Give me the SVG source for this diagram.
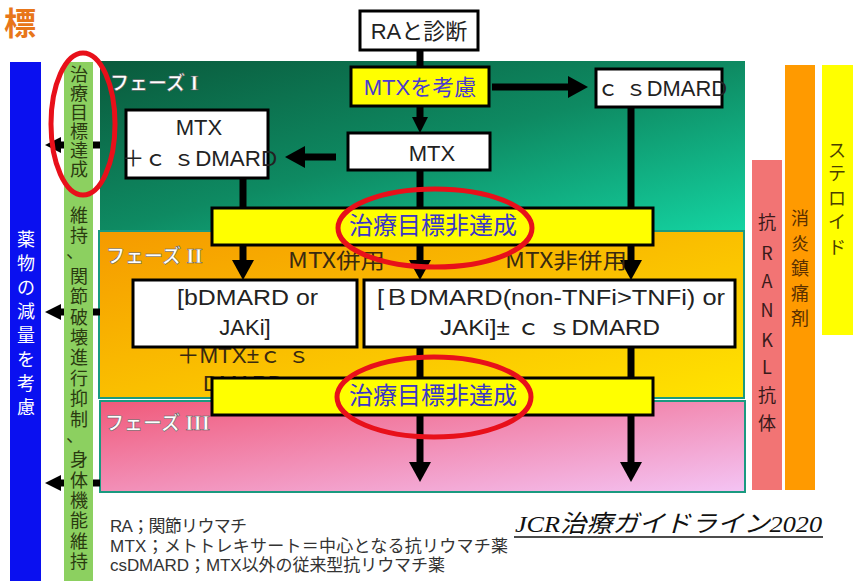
<svg xmlns="http://www.w3.org/2000/svg" width="862" height="581" viewBox="0 0 862 581">
<defs>
<style>
.jp{font-family:"Noto Sans CJK JP","Liberation Sans",sans-serif;}
.box{fill:#fff;stroke:#000;stroke-width:3;}
.ybar{fill:#ffff00;stroke:#000;stroke-width:3;}
.bt{font-family:"Liberation Sans","Noto Sans CJK JP",sans-serif;font-size:22px;fill:#222;}
.conn{stroke:#000;stroke-width:7;fill:none;}
.ring{fill:none;stroke:#e8101a;stroke-width:5;}
.ph{font-family:"Noto Sans CJK JP",sans-serif;font-size:19px;font-weight:bold;fill:#fff;stroke:#555;stroke-width:0.5px;}
.vt{font-family:"Noto Sans CJK JP","Liberation Sans",sans-serif;font-size:18px;text-anchor:middle;}
.goal{font-family:"Noto Sans CJK JP",sans-serif;font-size:24px;fill:#3a36c8;text-anchor:middle;}
.lg{font-family:"Liberation Sans","Noto Sans CJK JP",sans-serif;font-size:17px;fill:#333;}
</style>
<linearGradient id="g1" x1="0" y1="0" x2="1" y2="1">
<stop offset="0" stop-color="#0a5a3c"/><stop offset="0.5" stop-color="#0e8a62"/><stop offset="1" stop-color="#14d4a2"/>
</linearGradient>
<linearGradient id="g2" x1="0" y1="0" x2="1" y2="1">
<stop offset="0" stop-color="#f59a00"/><stop offset="1" stop-color="#ffe400"/>
</linearGradient>
<linearGradient id="g3" x1="0" y1="0" x2="1" y2="1">
<stop offset="0" stop-color="#f05a7a"/><stop offset="1" stop-color="#f4c4f4"/>
</linearGradient>
<marker id="ah" markerUnits="userSpaceOnUse" viewBox="0 0 20 22" markerWidth="20" markerHeight="22" refX="2" refY="11" orient="auto">
<path d="M0,0 L20,11 L0,22 Z" fill="#000"/>
</marker>
<marker id="ahs" markerUnits="userSpaceOnUse" viewBox="0 0 16 16" markerWidth="16" markerHeight="16" refX="2" refY="8" orient="auto">
<path d="M0,0 L16,8 L0,16 Z" fill="#000"/>
</marker>
</defs>
<rect width="862" height="581" fill="#fff"/>
<text x="4" y="35" font-family="Noto Sans CJK JP,sans-serif" font-size="32" font-weight="bold" fill="#e8761a">標</text>

<g id="phases">
<rect x="100" y="61" width="645" height="171" fill="url(#g1)"/>
<rect x="99" y="231" width="645" height="167" fill="url(#g2)" stroke="#1a9a80" stroke-width="2"/>
<rect x="100" y="401" width="645" height="91" fill="url(#g3)" stroke="#1a9a80" stroke-width="2"/>
<text class="ph" x="110" y="90">フェーズ<tspan font-family="Liberation Serif,serif" font-size="21"> I</tspan></text>
<text class="ph" x="106" y="263">フェーズ<tspan font-family="Liberation Serif,serif" font-size="21"> II</tspan></text>
<text class="ph" x="105" y="430">フェーズ<tspan font-family="Liberation Serif,serif" font-size="21"> III</tspan></text>
</g>

<g id="connectors">
<line class="conn" x1="420" y1="48" x2="420" y2="68"/>
<line class="conn" x1="492" y1="87" x2="570" y2="87" marker-end="url(#ah)"/>
<line class="conn" x1="420" y1="105" x2="420" y2="119" marker-end="url(#ahs)"/>
<line class="conn" x1="336" y1="157" x2="303" y2="157" marker-end="url(#ah)"/>
<line class="conn" x1="243" y1="177" x2="243" y2="262" marker-end="url(#ah)"/>
<line class="conn" x1="420" y1="169" x2="420" y2="262" marker-end="url(#ah)"/>
<line class="conn" x1="631" y1="106" x2="631" y2="262" marker-end="url(#ah)"/>
<line class="conn" x1="420" y1="346" x2="420" y2="464" marker-end="url(#ah)"/>
<line class="conn" x1="631" y1="346" x2="631" y2="464" marker-end="url(#ah)"/>
<line class="conn" x1="100" y1="145" x2="59" y2="145" marker-end="url(#ahs)"/>
<line class="conn" x1="100" y1="312" x2="59" y2="312" marker-end="url(#ahs)"/>
<line class="conn" x1="100" y1="483" x2="59" y2="483" marker-end="url(#ahs)"/>
</g>

<g id="ra">
<rect class="box" x="360" y="11" width="118" height="39"/>
<text class="bt" x="419" y="39" text-anchor="middle">RAと診断</text>
</g>
<g id="mtx-consider">
<rect x="351" y="67" width="138" height="39" fill="#ffff00" stroke="#000" stroke-width="3"/>
<text class="bt" x="420" y="95" text-anchor="middle" style="fill:#4a3ad0">MTXを考慮</text>
</g>
<g id="csdmard">
<rect class="box" x="596" y="69" width="126" height="38"/>
<text class="bt" x="597" y="96" textLength="130" lengthAdjust="spacingAndGlyphs">ｃ ｓDMARD</text>
</g>
<g id="mtx">
<rect class="box" x="348" y="133" width="142" height="37"/>
<text class="bt" x="432" y="161" text-anchor="middle">MTX</text>
</g>
<g id="mtx-cs">
<rect class="box" x="126" y="110" width="142" height="68"/>
<text class="bt" x="199" y="135" text-anchor="middle">MTX</text>
<text class="bt" x="122" y="166" textLength="155" lengthAdjust="spacingAndGlyphs">＋ｃ ｓDMARD</text>
</g>
<g id="goal1">
<rect class="ybar" x="212" y="208" width="441" height="37"/>
<text class="goal" x="433" y="234">治療目標非達成</text>
</g>
<g id="labels-phase2">
<text class="jp" x="288" y="268" font-size="21" fill="#3a2a10" textLength="97" lengthAdjust="spacingAndGlyphs">MTX併用</text>
<text class="jp" x="505" y="268" font-size="21" fill="#3a2a10" textLength="122" lengthAdjust="spacingAndGlyphs">MTX非併用</text>
<text class="bt" x="177" y="363" style="fill:#3a2a10" textLength="133" lengthAdjust="spacingAndGlyphs">＋MTX±ｃ ｓ</text>
<text class="bt" x="203" y="391" style="fill:#3a2a10">DMARD</text>
</g>
<g id="bdmard">
<rect class="box" x="133" y="280" width="224" height="67"/>
<text class="bt" x="177" y="305" textLength="141" lengthAdjust="spacingAndGlyphs">[bDMARD or</text>
<text class="bt" x="245" y="335" text-anchor="middle">JAKi]</text>
</g>
<g id="bdmard2">
<rect class="box" x="364" y="280" width="371" height="67"/>
<text class="bt" x="377" y="305" textLength="348" lengthAdjust="spacingAndGlyphs">[ＢDMARD(non-TNFi&gt;TNFi) or</text>
<text class="bt" x="440" y="335" textLength="220" lengthAdjust="spacingAndGlyphs">JAKi]± ｃ ｓDMARD</text>
</g>
<g id="goal2">
<rect class="ybar" x="212" y="378" width="441" height="37"/>
<text class="goal" x="433" y="404">治療目標非達成</text>
</g>

<g id="left-bars">
<rect x="10" y="62" width="31" height="519" fill="#0a10f0"/>
<text class="vt" fill="#fff" x="26 26 26 26 26 26 26 26" y="246 270 294 318 342 366 390 414">薬物の減量を考慮</text>
<rect x="64" y="62" width="29" height="519" fill="#8cd060"/>
<text class="vt" fill="#2a3a10" x="79 79 79 79 79 79" y="81 100 119 138 157 176">治療目標達成</text>
<text class="vt" fill="#2a3a10" x="79 79 75 79 79 79 79 79 79 79 79 75 79 79 79 79 79 79" y="222 242 258 283 303 324 344 364 385 405 426 442 466 487 507 527 548 568">維持、関節破壊進行抑制、身体機能維持</text>
<rect x="95" y="309" width="5" height="6" fill="#000"/>
</g>

<g id="right-bars">
<rect x="752" y="160" width="30" height="330" fill="#f27474"/>
<text class="vt" fill="#3a1a1a" font-size="20" x="767 767 767 767 767 767 767 767" y="229 260 288 317 347 374 402 430">抗RANKL抗体</text>
<rect x="785" y="65" width="30" height="425" fill="#ff9a00"/>
<text class="vt" fill="#5a3000" font-size="20" x="800 800 800 800 800" y="225 250 275 300 325">消炎鎮痛剤</text>
<rect x="822" y="65" width="31" height="270" fill="#ffff00"/>
<text class="vt" fill="#4a4000" font-size="20" x="837 837 837 837 837" y="157 180 205 228 254">ステロイド</text>
</g>

<g id="rings">
<ellipse class="ring" cx="83" cy="124" rx="32" ry="71"/>
<ellipse class="ring" cx="435" cy="228" rx="97" ry="39"/>
<ellipse class="ring" cx="434" cy="397" rx="97" ry="40"/>
</g>

<g id="legend">
<text class="lg" x="110" y="532" textLength="137">RA；関節リウマチ</text>
<text class="lg" x="110" y="552" textLength="398">MTX；メトトレキサート＝中心となる抗リウマチ薬</text>
<text class="lg" x="110" y="571" textLength="335">csDMARD；MTX以外の従来型抗リウマチ薬</text>
</g>
<g id="credit">
<text x="515" y="532" font-family="Liberation Serif,Noto Sans CJK JP,serif" font-style="italic" font-size="24" fill="#111" textLength="307" lengthAdjust="spacingAndGlyphs">JCR治療ガイドライン2020</text>
<line x1="514" y1="537" x2="823" y2="537" stroke="#111" stroke-width="1.5"/>
</g>
</svg>
